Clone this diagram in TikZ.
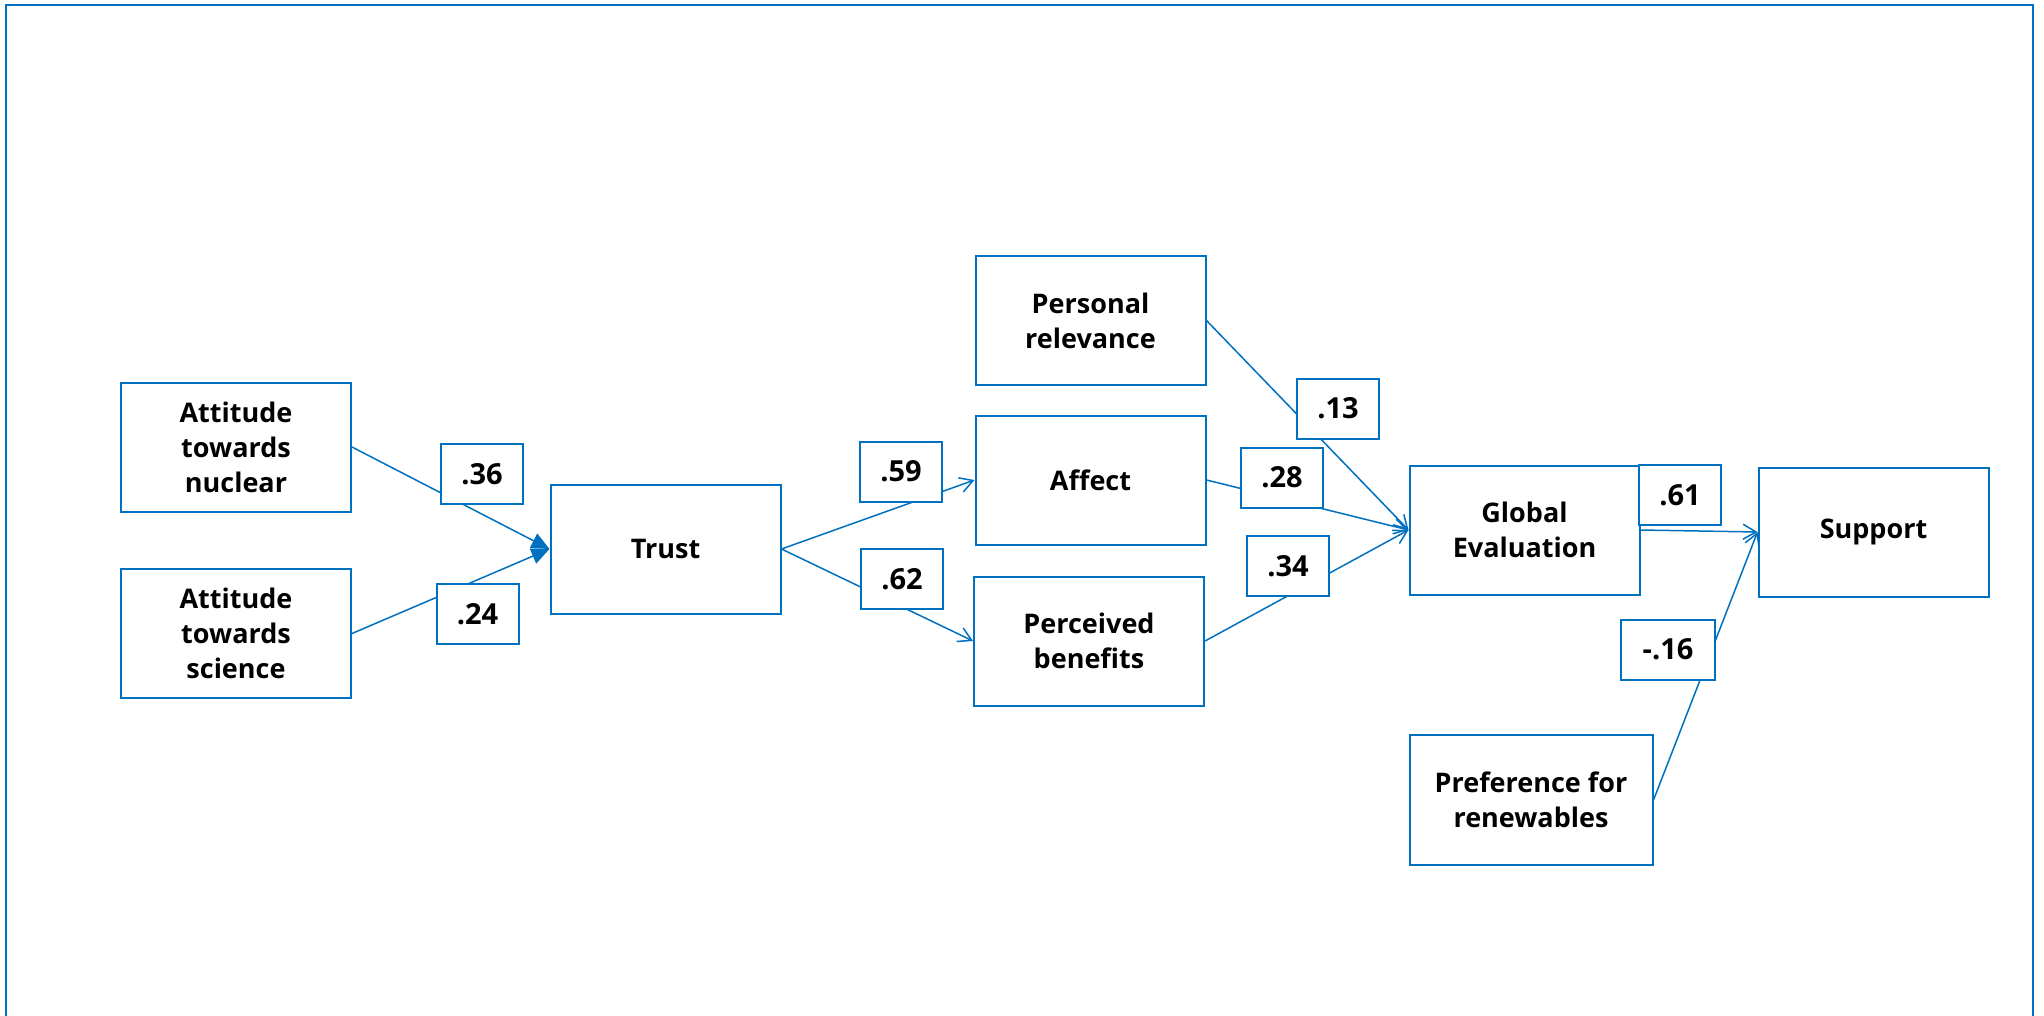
\documentclass[tikz,border=0pt]{standalone}
\usepackage{fontspec}
\setmainfont{Open Sans}
\usetikzlibrary{arrows.meta}
\definecolor{pathblue}{RGB}{0,112,192}
\tikzset{
  var/.style={draw=pathblue, line width=1pt, minimum width=115pt, minimum height=64.5pt,
    inner sep=0pt, align=center, font=\fontsize{13.5}{17.5}\selectfont\bfseries},
  coef/.style={draw=pathblue, fill=white, line width=1pt, minimum width=41pt, minimum height=30pt,
    inner sep=0pt, font=\fontsize{14.5}{16}\selectfont\bfseries},
  link/.style={draw=pathblue, line width=0.75pt, -{Straight Barb[length=6.5pt,width=7.5pt]}},
  linkfill/.style={draw=pathblue, line width=0.75pt, -{Triangle[length=9pt,width=8pt]}}
}
\begin{document}
\begin{tikzpicture}[x=0.5pt, y=-0.5pt]
  \useasboundingbox (0, 0) rectangle (2044, 1016);
  \draw[pathblue, line width=1pt] (6, 1016) -- (6, 5) -- (2033, 5) -- (2033, 1016);

  % variables
  \node[var] (nuclear) at (236, 447) {Attitude\\towards\\nuclear};
  \node[var] (science) at (236, 633.5) {Attitude\\towards\\science};
  \node[var] (trust) at (665.5, 549) {Trust};

  \node[var] (relevance) at (1090.5, 320.5) {Personal\\relevance};
  \node[var] (affect) at (1090.5, 480) {Affect};
  \node[var] (benefits) at (1089, 641) {Perceived\\benefits};

  \node[var] (global) at (1524.5, 530) {Global\\Evaluation};
  \node[var] (support) at (1873.5, 532) {Support};
  \node[var, minimum width=121.5pt, minimum height=65pt] (renewables) at (1531, 800) {Preference for\\renewables};

  % paths
  \draw[linkfill] (nuclear.east) -- (trust.west);
  \draw[linkfill] (science.east) -- (trust.west);
  \draw[link] (trust.east) -- (affect.west);
  \draw[link] (trust.east) -- (benefits.west);
  \draw[link] (relevance.east) -- (global.west);
  \draw[link] (affect.east) -- (global.west);
  \draw[link] (benefits.east) -- (global.west);
  \draw[link] (global.east) -- (support.west);
  \draw[link] (renewables.east) -- (support.west);

  % coefficients
  \node[coef] (c36) at (482, 474) {.36};
  \node[coef] (c24) at (477.5, 614) {.24};
  \node[coef] (c59) at (901, 471.5) {.59};
  \node[coef] (c62) at (902, 579) {.62};
  \node[coef] (c13) at (1338, 408.5) {.13};
  \node[coef] (c28) at (1282, 477.5) {.28};
  \node[coef] (c34) at (1288, 566) {.34};
  \node[coef] (c61) at (1680, 495) {.61};
  \node[coef, minimum width=47pt] (c16) at (1668, 649.5) {-.16};
\end{tikzpicture}
\end{document}
